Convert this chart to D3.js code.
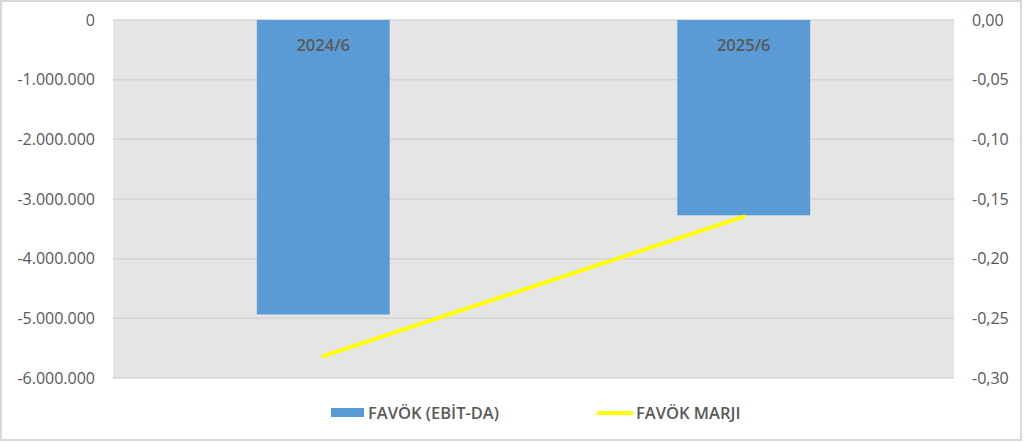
<!DOCTYPE html>
<html>
<head>
<meta charset="utf-8">
<script src="https://cdn.jsdelivr.net/npm/d3@7"></script>
<style>
  body { margin: 0; background: #fff; }
  text { font-family: "Open Sans", "Noto Sans", sans-serif; fill: #595959; }
</style>
</head>
<body>
<main></main>
<script>
// chart values
var categories = ["2024/6", "2025/6"];
var favok = [-4935000, -3273000];
var favokMarji = [-0.2816, -0.1648];
var leftTicks = [0, -1000000, -2000000, -3000000, -4000000, -5000000, -6000000];
var rightTicks = [0, -0.05, -0.10, -0.15, -0.20, -0.25, -0.30];
var legendNames = ["FAVÖK (EBİT-DA)", "FAVÖK MARJI"];

var width = 1024, height = 442;
var plot = {left: 113, right: 954, top: 20, bottom: 378};

var svg = d3.select("main")
  .append("svg")
    .attr("width", width)
    .attr("height", height);

// outer chart border
svg.append("rect")
  .attr("x", 1).attr("y", 1)
  .attr("width", 1020).attr("height", 439)
  .attr("fill", "#fff")
  .attr("stroke", "#d9d9d9")
  .attr("stroke-width", 2);

var x = d3.scaleBand()
  .domain(categories)
  .range([plot.left, plot.right])
  .paddingInner(0.684)
  .paddingOuter(0.342);

var yLeft = d3.scaleLinear().domain([-6000000, 0]).range([plot.bottom, plot.top]);
var yRight = d3.scaleLinear().domain([-0.30, 0]).range([plot.bottom, plot.top]);

svg.append("rect")
  .attr("x", plot.left).attr("y", plot.top)
  .attr("width", plot.right - plot.left)
  .attr("height", plot.bottom - plot.top)
  .attr("fill", "#e5e5e5");

// gridlines
svg.selectAll(".grid")
  .data(leftTicks)
  .enter().append("line")
    .attr("x1", plot.left).attr("x2", plot.right)
    .attr("y1", function(d) { return yLeft(d); })
    .attr("y2", function(d) { return yLeft(d); })
    .attr("stroke", "#d4d4d4")
    .attr("stroke-width", 1.5);

var fmtLeft = function(d) {
  return d3.format(",")(d).replace(/,/g, ".").replace("−", "-");
};
var fmtRight = function(d) {
  return d3.format(".2f")(d).replace(".", ",").replace("−", "-");
};

var leftAxis = svg.append("g")
  .attr("transform", "translate(" + (plot.left - 18) + ",0)")
  .call(d3.axisLeft(yLeft).tickValues(leftTicks).tickFormat(fmtLeft).tickSize(0).tickPadding(0));
leftAxis.select(".domain").remove();
leftAxis.selectAll("text")
  .attr("font-size", 16).attr("font-family", "Open Sans").attr("fill", "#595959");

var rightAxis = svg.append("g")
  .attr("transform", "translate(" + (plot.right + 18) + ",0)")
  .call(d3.axisRight(yRight).tickValues(rightTicks).tickFormat(fmtRight).tickSize(0).tickPadding(0));
rightAxis.select(".domain").remove();
rightAxis.selectAll("text")
  .attr("font-size", 16).attr("font-family", "Open Sans").attr("fill", "#595959");

// bars
svg.selectAll(".bar")
  .data(favok)
  .enter().append("rect")
    .attr("x", function(d, i) { return x(categories[i]); })
    .attr("y", yLeft(0))
    .attr("width", x.bandwidth())
    .attr("height", function(d) { return yLeft(d) - yLeft(0); })
    .attr("fill", "#5b9bd5");

// category labels at top
svg.selectAll(".cat")
  .data(categories)
  .enter().append("text")
    .attr("x", function(d) { return x(d) + x.bandwidth() / 2; })
    .attr("y", 51)
    .attr("text-anchor", "middle")
    .attr("font-size", 16.5)
    .attr("font-weight", 600)
    .text(function(d) { return d; });

// margin line
var line = d3.line()
  .x(function(d, i) { return x(categories[i]) + x.bandwidth() / 2; })
  .y(function(d) { return yRight(d); });

svg.append("path")
  .datum(favokMarji)
  .attr("d", line)
  .attr("fill", "none")
  .attr("stroke", "#ffff00")
  .attr("stroke-width", 4)
  .attr("stroke-linecap", "round");

// legend
var legend = svg.append("g");
legend.append("rect")
  .attr("x", 331).attr("y", 408)
  .attr("width", 33).attr("height", 9)
  .attr("fill", "#5b9bd5");
legend.append("text")
  .attr("x", 368).attr("y", 419)
  .attr("font-size", 16.5).attr("font-weight", 600)
  .text(legendNames[0]);
legend.append("line")
  .attr("x1", 597).attr("x2", 633)
  .attr("y1", 413).attr("y2", 413)
  .attr("stroke", "#ffff00")
  .attr("stroke-width", 4);
legend.append("text")
  .attr("x", 636).attr("y", 419)
  .attr("font-size", 16.5).attr("font-weight", 600)
  .text(legendNames[1]);
</script>
</body>
</html>
